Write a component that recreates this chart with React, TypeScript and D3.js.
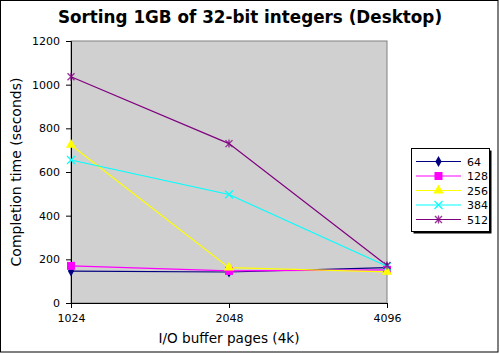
import React, { useRef, useEffect } from "react";
import * as d3 from "d3";

const PAGES = ["1024", "2048", "4096"];
const SERIES_NAMES = ["64", "128", "256", "384", "512"];
const SERIES_VALUES = [
  [146, 142, 162],
  [170, 147, 152],
  [724, 162, 143],
  [655, 497, 168],
  [1036, 730, 172],
];
const SERIES_COLORS = ["#000080", "#ff00ff", "#ffff00", "#00ffff", "#800080"];
const Y_TICKS = [0, 200, 400, 600, 800, 1000, 1200];

function drawMarker(g, i, x, y, color) {
  if (i === 0) {
    g.append("path")
      .attr("d", d3.symbol(d3.symbolDiamond, 34)())
      .attr("transform", `translate(${x},${y})`)
      .attr("fill", color);
  } else if (i === 1) {
    g.append("rect")
      .attr("x", x - 4).attr("y", y - 4)
      .attr("width", 8).attr("height", 8)
      .attr("fill", color);
  } else if (i === 2) {
    g.append("path")
      .attr("d", d3.symbol(d3.symbolTriangle, 45)())
      .attr("transform", `translate(${x},${y})`)
      .attr("fill", color);
  } else if (i === 3) {
    g.append("path")
      .attr("d", `M${x - 4},${y - 4}L${x + 4},${y + 4}M${x - 4},${y + 4}L${x + 4},${y - 4}`)
      .attr("stroke", color)
      .attr("stroke-width", 1.2);
  } else {
    g.append("path")
      .attr("d", `M${x - 3.5},${y - 3.5}L${x + 3.5},${y + 3.5}M${x - 3.5},${y + 3.5}L${x + 3.5},${y - 3.5}M${x},${y - 4}L${x},${y + 4}`)
      .attr("stroke", color)
      .attr("stroke-width", 1.3)
      .attr("opacity", 0.8);
  }
}

function App() {
  const svgRef = useRef(null);

  useEffect(() => {
    const svg = d3.select(svgRef.current);
    const width = 500;
    const height = 354;
    const margin = { top: 41, right: 113, bottom: 51, left: 71 };
    svg.attr("width", width).attr("height", height);
    svg.selectAll("*").remove();

    const font = "DejaVu Sans, sans-serif";

    // outer frame
    svg.append("rect")
      .attr("x", 0.5).attr("y", 0.5)
      .attr("width", width - 2.5).attr("height", height - 2.5)
      .attr("fill", "#fff").attr("stroke", "#000");

    const x = d3.scalePoint()
      .domain(PAGES)
      .range([margin.left, width - margin.right]);

    const y = d3.scaleLinear()
      .domain([0, 1200])
      .range([height - margin.bottom, margin.top]);

    // plot background
    svg.append("rect")
      .attr("x", margin.left).attr("y", margin.top)
      .attr("width", width - margin.right - margin.left)
      .attr("height", height - margin.bottom - margin.top)
      .attr("fill", "#d0d0d0")
      .attr("stroke", "#808080");

    // axes
    const xAxis = svg.append("g")
      .attr("transform", `translate(0,${height - margin.bottom})`)
      .call(d3.axisBottom(x).tickSize(5).tickPadding(6));
    const yAxis = svg.append("g")
      .attr("transform", `translate(${margin.left},0)`)
      .call(d3.axisLeft(y).tickValues(Y_TICKS).tickFormat(d3.format("d")).tickSize(5).tickPadding(6));
    [xAxis, yAxis].forEach(a => {
      a.selectAll("text").attr("font-family", font).attr("font-size", 11).attr("fill", "#000");
      a.selectAll("line,path").attr("stroke", "#000");
    });
    xAxis.select(".domain").attr("d", `M${margin.left},0.5H${width - margin.right}`);

    // lines
    const line = d3.line()
      .x((d, j) => x(PAGES[j]))
      .y(d => y(d));

    SERIES_VALUES.forEach((vals, i) => {
      svg.append("path")
        .datum(vals)
        .attr("d", line)
        .attr("fill", "none")
        .attr("stroke", SERIES_COLORS[i])
        .attr("stroke-width", 1.2);
    });
    SERIES_VALUES.forEach((vals, i) => {
      const g = svg.append("g");
      vals.forEach((v, j) => drawMarker(g, i, x(PAGES[j]), y(v), SERIES_COLORS[i]));
    });

    // title
    svg.append("text")
      .attr("x", 250).attr("y", 23)
      .attr("text-anchor", "middle")
      .attr("font-family", font)
      .attr("font-size", 16.8)
      .attr("font-weight", "bold")
      .text("Sorting 1GB of 32-bit integers (Desktop)");

    // axis titles
    svg.append("text")
      .attr("x", (margin.left + width - margin.right) / 2).attr("y", 343)
      .attr("text-anchor", "middle")
      .attr("font-family", font)
      .attr("font-size", 13.6)
      .text("I/O buffer pages (4k)");

    svg.append("text")
      .attr("transform", `translate(21,${(margin.top + height - margin.bottom) / 2}) rotate(-90)`)
      .attr("text-anchor", "middle")
      .attr("font-family", font)
      .attr("font-size", 14)
      .text("Completion time (seconds)");

    // legend
    const lg = svg.append("g");
    lg.append("rect")
      .attr("x", 413.5).attr("y", 150.5).attr("width", 78).attr("height", 83)
      .attr("fill", "#000");
    lg.append("rect")
      .attr("x", 411.5).attr("y", 148.5).attr("width", 78).attr("height", 83)
      .attr("fill", "#fff").attr("stroke", "#000");
    SERIES_NAMES.forEach((name, i) => {
      const ly = 161.5 + i * 14.5;
      lg.append("line")
        .attr("x1", 416).attr("x2", 461)
        .attr("y1", ly).attr("y2", ly)
        .attr("stroke", SERIES_COLORS[i])
        .attr("stroke-width", 1.2);
      drawMarker(lg, i, 438.5, ly, SERIES_COLORS[i]);
      lg.append("text")
        .attr("x", 467).attr("y", ly + 4)
        .attr("font-family", font)
        .attr("font-size", 11)
        .text(name);
    });
  }, []);

  return <svg ref={svgRef} style={{ position: "absolute", left: 0, top: 0 }}></svg>;
}

export default App;
